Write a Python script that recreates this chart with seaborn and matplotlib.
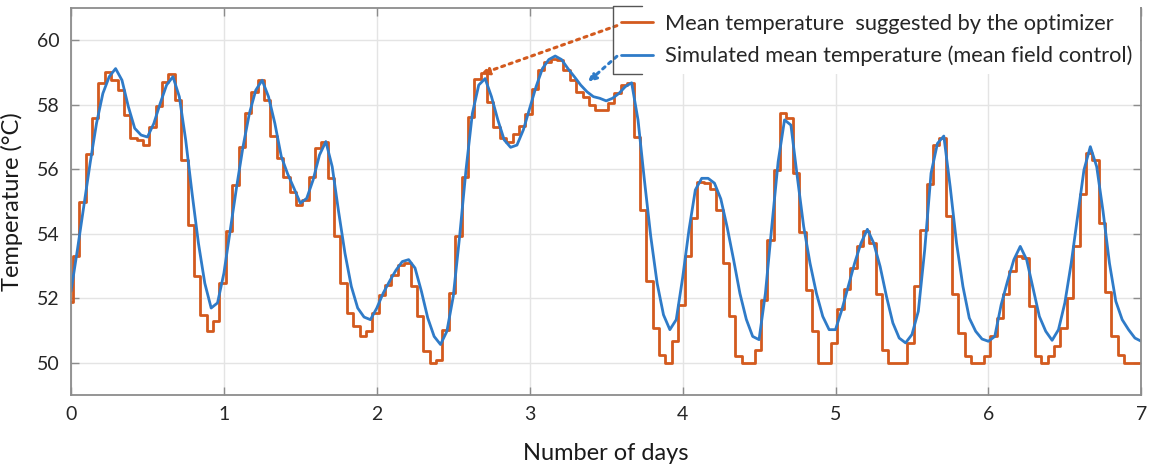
import numpy as np
import pandas as pd
import matplotlib
matplotlib.use("Agg")
import matplotlib.pyplot as plt
from matplotlib.lines import Line2D
import seaborn as sns

# ---------------- data ----------------
# hourly set-points suggested by the optimizer (step series), hours 0..167
optimizer_temp = [
    53.3, 55.0, 56.47, 57.58, 58.66, 59.02, 58.78, 58.45, 57.68, 56.96,
    56.91, 56.75, 57.32, 57.96, 58.71, 58.95, 58.16, 56.29, 54.28, 52.68,
    51.49, 50.98, 51.29, 52.49, 54.09, 55.52, 56.70, 57.75, 58.40, 58.76,
    58.14, 57.03, 56.34, 55.77, 55.31, 54.90, 55.05, 55.77, 56.65, 56.86,
    55.72, 53.92, 52.47, 51.55, 51.13, 50.82, 50.98, 51.55, 52.11, 52.42,
    52.73, 53.04, 53.09, 52.37, 51.44, 50.36, 50.0, 50.10, 51.03, 52.16,
    53.92, 55.77, 57.63, 58.81, 58.97, 58.09, 57.32, 56.96, 56.86, 57.1,
    57.35, 57.7, 58.5, 59.07, 59.33, 59.43, 59.40, 59.07, 58.76, 58.4,
    58.25, 58.0, 57.85, 57.83, 58.04, 58.35, 58.6, 58.68, 57.0, 54.74,
    52.53, 51.08, 50.26, 50.0, 50.67, 51.80, 53.30, 54.48, 55.62, 55.57,
    55.4, 54.74, 53.09, 51.45, 50.21, 50.0, 50.0, 50.41, 51.96, 53.81,
    55.98, 57.73, 57.6, 55.88, 54.07, 52.27, 50.98, 50.0, 50.0, 50.63,
    51.66, 52.28, 52.95, 53.62, 54.08, 53.72, 52.12, 50.4, 50.0, 50.0,
    50.0, 50.63, 52.38, 54.13, 55.53, 56.76, 56.97, 54.55, 52.12, 50.94,
    50.22, 50.0, 50.0, 50.22, 50.84, 51.4, 52.12, 52.85, 53.31, 53.26,
    51.76, 50.22, 50.0, 50.22, 50.52, 51.09, 52.02, 53.62, 55.22, 56.5,
    56.3, 54.34, 52.2, 50.84, 50.25, 50.0, 50.0, 50.0,
]
# value held at the very start before the first hourly set-point
optimizer_start = 51.9

# simulated mean temperature (mean field control), hours 0..168
simulated_temp = [
    52.22, 53.5, 54.85, 56.19, 57.42, 58.35, 58.87, 59.12, 58.76, 57.94,
    57.27, 57.06, 57.0, 57.42, 58.04, 58.61, 58.87, 58.25, 56.91, 55.26,
    53.71, 52.47, 51.7, 51.86, 52.78, 54.12, 55.46, 56.70, 57.73, 58.45,
    58.76, 58.25, 57.42, 56.4, 55.86, 55.41, 54.95, 55.10, 55.67, 56.44,
    56.86, 56.08, 54.69, 53.40, 52.37, 51.70, 51.42, 51.34, 51.70, 52.16,
    52.53, 52.87, 53.14, 53.20, 52.94, 52.22, 51.39, 50.82, 50.57, 50.98,
    52.06, 53.92, 55.98, 57.73, 58.61, 58.81, 58.25, 57.53, 56.91, 56.68,
    56.75, 57.22, 57.89, 58.56, 59.12, 59.40, 59.51, 59.40, 59.12, 58.87,
    58.61, 58.40, 58.25, 58.20, 58.12, 58.20, 58.35, 58.56, 58.68, 57.53,
    55.67, 53.92, 52.47, 51.49, 51.03, 51.34, 52.63, 54.12, 55.36, 55.72,
    55.72, 55.57, 55.08, 54.2, 53.2, 52.15, 51.35, 50.82, 50.72, 52.16,
    54.23, 56.24, 57.53, 57.37, 55.77, 54.23, 53.09, 52.16, 51.44, 51.03,
    51.03, 51.65, 52.37, 53.09, 53.71, 54.14, 53.71, 52.99, 52.06, 51.24,
    50.77, 50.62, 50.88, 51.6, 53.5, 55.88, 56.8, 57.03, 55.46, 53.71,
    52.37, 51.39, 50.98, 50.74, 50.67, 50.82, 51.8, 52.53, 53.2, 53.61,
    53.2, 52.32, 51.44, 50.98, 50.70, 51.03, 51.86, 53.09, 54.54, 55.98,
    56.70, 56.08, 54.69, 53.09, 51.91, 51.34, 51.03, 50.77, 50.67,
]

label_opt = "Mean temperature  suggested by the optimizer"
label_sim = "Simulated mean temperature (mean field control)"
x_ticks = [0, 1, 2, 3, 4, 5, 6, 7]
y_ticks = [50, 52, 54, 56, 58, 60]
x_label = "Number of days"
y_label = "Temperature (°C)"

HOURS_PER_DAY = 24
STEP_OFFSET_H = 0.3   # set-point changes fall slightly after the full hour

# ---------------- build frames ----------------
opt_vals = np.concatenate([[optimizer_start], optimizer_temp, [optimizer_temp[-1]]])
opt_hours = np.concatenate([[0.0], np.arange(len(optimizer_temp)) + STEP_OFFSET_H,
                            [len(optimizer_temp)]])
df_opt = pd.DataFrame({"day": opt_hours / HOURS_PER_DAY, "temp": opt_vals})
df_sim = pd.DataFrame({"day": np.arange(len(simulated_temp)) / HOURS_PER_DAY,
                       "temp": simulated_temp})

# ---------------- style ----------------
sns.set_theme(style="whitegrid")
plt.rcParams["font.family"] = ["Lato", "DejaVu Sans"]

ORANGE = "#D35A1E"
BLUE = "#2F7BC8"
SPINE = "#8c8c8c"

fig = plt.figure(figsize=(11.49, 4.66), dpi=100)
ax = fig.add_axes([0.0618, 0.152, 0.9315, 0.831])

sns.lineplot(data=df_opt, x="day", y="temp", ax=ax, color=ORANGE,
             drawstyle="steps-post", linewidth=2.0, label=label_opt,
             estimator=None, sort=False)
sns.lineplot(data=df_sim, x="day", y="temp", ax=ax, color=BLUE,
             linewidth=2.0, label=label_sim, estimator=None, sort=False)

ax.set_xlim(0, 7)
ax.set_ylim(49, 61)
ax.set_xticks(x_ticks)
ax.set_yticks(y_ticks)
ax.set_xlabel(x_label, fontsize=17, color="#1a1a1a", labelpad=14)
ax.set_ylabel(y_label, fontsize=17, color="#1a1a1a", labelpad=10)
ax.tick_params(axis="both", which="both", direction="in", length=6,
               width=1.0, color=SPINE, labelsize=14, labelcolor="#262626",
               top=True, right=True, bottom=True, left=True, pad=8)
ax.grid(True, color="#e4e4e4", linewidth=1.0)
for s in ax.spines.values():
    s.set_visible(True)
    s.set_color(SPINE)
    s.set_linewidth(1.3)

leg = ax.legend(loc="upper left", bbox_to_anchor=(613 / 1149, 1 - 6 / 466),
                bbox_transform=fig.transFigure, fontsize=15.7,
                frameon=True, fancybox=False, framealpha=1.0,
                edgecolor="none", facecolor="white", handlelength=1.5,
                handletextpad=0.55, borderpad=0.35, labelspacing=0.55,
                borderaxespad=0)
leg.set_zorder(10)

# dotted pointer arrows from the legend to the curves
ax.annotate("", xy=(2.68, 58.95), xytext=(3.57, 60.45),
            arrowprops=dict(arrowstyle="-|>", linestyle=(0, (1, 1.6)),
                            color=ORANGE, lw=2.2, mutation_scale=12,
                            shrinkA=0, shrinkB=0), zorder=11,
            annotation_clip=False)
ax.annotate("", xy=(3.38, 58.7), xytext=(3.57, 59.5),
            arrowprops=dict(arrowstyle="-|>", linestyle=(0, (1, 1.6)),
                            color=BLUE, lw=2.2, mutation_scale=12,
                            shrinkA=0, shrinkB=0), zorder=11,
            annotation_clip=False)

# partial legend outline around the handles only (as in the reference)
fig.canvas.draw()
bb = leg.get_window_extent()
W, H = fig.bbox.width, fig.bbox.height
xr = bb.x0 + 29
outline = Line2D([xr / W, bb.x0 / W, bb.x0 / W, xr / W],
                 [bb.y1 / H, bb.y1 / H, bb.y0 / H, bb.y0 / H],
                 transform=fig.transFigure, color="#555555", linewidth=1.0,
                 zorder=12)
fig.add_artist(outline)

fig.savefig("out.png", dpi=100)
